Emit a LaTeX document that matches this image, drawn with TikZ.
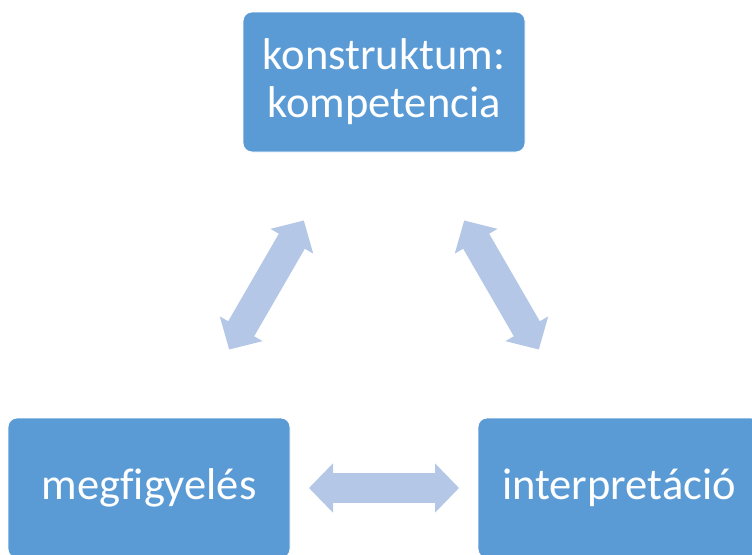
\documentclass[tikz,border=0pt]{standalone}
\usepackage{fontspec}
\setmainfont{Carlito}[Ligatures=NoCommon]
\usetikzlibrary{positioning,arrows.meta}
\definecolor{boxblue}{HTML}{5B9BD5}
\definecolor{arrowblue}{HTML}{B4C7E7}

\begin{document}
\begin{tikzpicture}[x=1pt,y=-1pt,
  box/.style={fill=boxblue, draw=white, line width=0.8pt, rounded corners=9pt,
    minimum width=282pt, minimum height=140pt, inner sep=0pt,
    text=white, align=center, font=\fontsize{44.5}{48}\selectfont},
  twoway/.style={draw=arrowblue, line width=30pt,
    {Triangle[width=48pt,length=24pt]}-{Triangle[width=48pt,length=24pt]},
    shorten <=160pt, shorten >=160pt}]
\useasboundingbox (0,0) rectangle (752,554);

\node[box] (konstr) at (384,82) {konstruktum:\\kompetencia};
\node[box] (megf) at (149,488) {megfigyelés};
\node[box] (interp) at (619,488) {interpretáció};

\draw[twoway] (konstr.center) -- (megf.center);
\draw[twoway] (konstr.center) -- (interp.center);
\draw[twoway] (megf.center) -- (interp.center);
\end{tikzpicture}
\end{document}
